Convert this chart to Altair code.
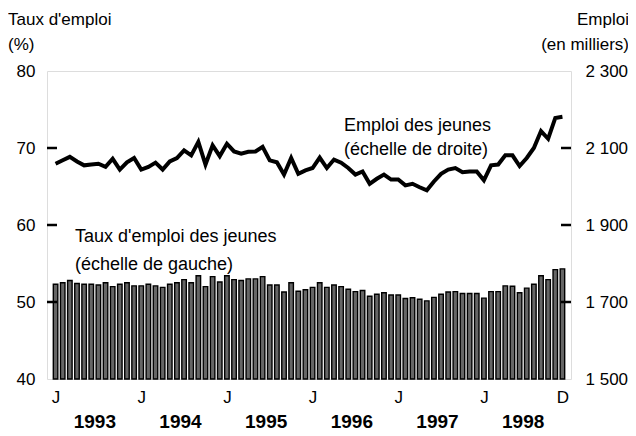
import altair as alt
import pandas as pd

# Monthly data, Jan 1993 - Dec 1998
rate = [52.3, 52.5, 52.8, 52.4, 52.3, 52.3, 52.2, 52.5, 52.0, 52.3, 52.5, 52.1,
        52.1, 52.3, 52.1, 51.9, 52.3, 52.5, 52.9, 52.5, 53.4, 52.0, 53.3, 52.6,
        53.4, 52.9, 52.8, 53.0, 53.0, 53.3, 52.2, 52.2, 51.3, 52.5, 51.4, 51.6,
        51.9, 52.5, 51.9, 52.2, 52.0, 51.65, 51.35, 51.5, 50.75, 51.0, 51.2, 50.9,
        50.9, 50.45, 50.55, 50.35, 50.15, 50.6, 51.0, 51.3, 51.35, 51.1, 51.1, 51.1,
        50.5, 51.35, 51.35, 52.1, 52.05, 51.2, 51.8, 52.3, 53.4, 52.9, 54.2, 54.3]
emp = [2059, 2068, 2077, 2065, 2055, 2057, 2059, 2051, 2072, 2044, 2063, 2074,
       2044, 2051, 2062, 2044, 2065, 2074, 2094, 2081, 2116, 2057, 2107, 2079,
       2111, 2091, 2085, 2090, 2091, 2103, 2068, 2063, 2031, 2074, 2033, 2042,
       2048, 2075, 2048, 2070, 2062, 2048, 2031, 2039, 2007, 2020, 2031, 2018,
       2018, 2003, 2007, 1998, 1990, 2013, 2033, 2044, 2048, 2037, 2039, 2039,
       2016, 2055, 2057, 2081, 2081, 2053, 2074, 2100, 2144, 2124, 2178, 2181]
years = ["1993", "1994", "1995", "1996", "1997", "1998"]
left_ticks = [40, 50, 60, 70, 80]
right_ticks = [1500, 1700, 1900, 2100, 2300]
month_ticks = [0, 12, 24, 36, 48, 60, 71]

df = pd.DataFrame({"m": [i + 0.5 for i in range(len(rate))], "rate": rate, "emp": emp})
ydf = pd.DataFrame({"year": years, "mid": [12 * k + 6 for k in range(len(years))]})
ltdf = pd.DataFrame({"v": left_ticks[1:-1]})
rtdf = pd.DataFrame({"v": right_ticks[1:-1]})

W, H = 524, 308
FONT = "Liberation Sans"
FS = 17

xscale = alt.Scale(domain=[0, 72], nice=False, zero=False)
xaxis = alt.Axis(values=[p + 0.5 for p in month_ticks],
                 labelExpr="datum.value > 71 ? 'D' : 'J'",
                 grid=False, ticks=False, domain=False, title=None,
                 labelFontSize=FS, labelFont=FONT, labelColor="black",
                 labelPadding=10, labelFlush=False)
yl = alt.Scale(domain=[40, 80], nice=False, zero=False)
ylaxis = alt.Axis(values=left_ticks, grid=False, ticks=False, domain=False, title=None,
                  labelFontSize=FS, labelFont=FONT, labelColor="black", labelPadding=12)
yr = alt.Scale(domain=[1500, 2300], nice=False, zero=False)
yraxis = alt.Axis(values=right_ticks, orient="right", grid=False, ticks=False, domain=False,
                  title=None, labelFontSize=FS, labelFont=FONT, labelColor="black",
                  labelPadding=14,
                  labelExpr="replace(format(datum.value, ','), ',', ' ')")

base = alt.Chart(df)

bars = base.mark_bar(width=4.5, fill="#666666", stroke="black", strokeWidth=1.4).encode(
    x=alt.X("m:Q", scale=xscale, axis=xaxis),
    y=alt.Y("rate:Q", scale=yl, axis=ylaxis),
    y2=alt.datum(40),
)
lticks = alt.Chart(ltdf).mark_rule(color="black", strokeWidth=2.5).encode(
    y=alt.Y("v:Q", scale=yl, axis=ylaxis),
    x=alt.value(0), x2=alt.value(10),
)
yearlab = alt.Chart(ydf).mark_text(fontSize=19, fontWeight="bold", font=FONT,
                                   color="black", baseline="alphabetic").encode(
    x=alt.X("mid:Q", scale=xscale, axis=xaxis),
    text="year:N",
    y=alt.value(H + 49),
)


def note(text, x, y, align="left", size=FS):
    return alt.Chart(pd.DataFrame({"a": [0]})).mark_text(
        fontSize=size, font=FONT, color="black", align=align, baseline="alphabetic"
    ).encode(x=alt.value(x), y=alt.value(y), text=alt.value(text))


notes = [
    note("Taux d'emploi", -39, -46),
    note("(%)", -39, -21),
    note("Emploi", 582, -46, "right"),
    note("(en milliers)", 582, -21, "right"),
    note("Emploi des jeunes", 297, 60, size=18),
    note("(échelle de droite)", 297, 84, size=18),
    note("Taux d'emploi des jeunes", 28, 171, size=18),
    note("(échelle de gauche)", 28, 199, size=18),
]

left = alt.layer(bars, lticks, yearlab, *notes)

line = base.mark_line(color="black", strokeWidth=4).encode(
    x=alt.X("m:Q", scale=xscale, axis=xaxis),
    y=alt.Y("emp:Q", scale=yr, axis=yraxis),
)
rticks = alt.Chart(rtdf).mark_rule(color="black", strokeWidth=2.5).encode(
    y=alt.Y("v:Q", scale=yr, axis=yraxis),
    x=alt.value(W - 10), x2=alt.value(W),
)
right = alt.layer(line, rticks)

chart = alt.layer(left, right).resolve_scale(y="independent").properties(
    width=W, height=H,
    autosize=alt.AutoSizeParams(type="none"),
    padding={"left": 39, "top": 63, "right": 57, "bottom": 56},
).configure_view(stroke="black", strokeWidth=3).configure(background="white")

chart.save("out.html", embed_options={"renderer": "svg", "actions": False})
